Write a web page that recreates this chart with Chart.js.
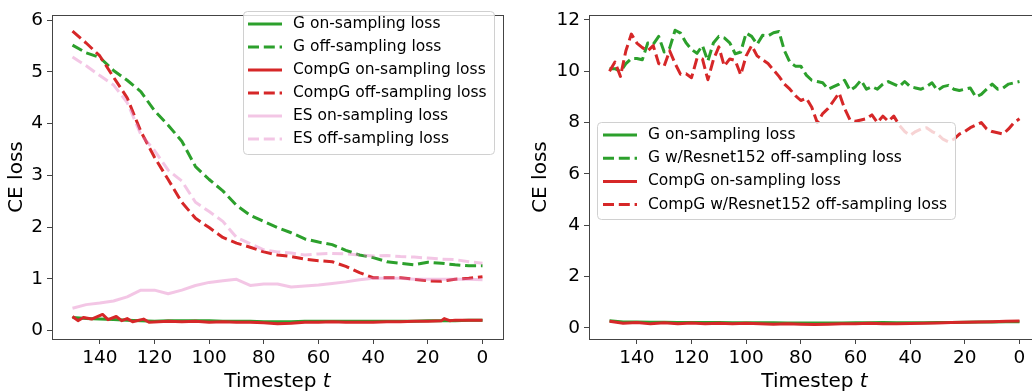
<!DOCTYPE html>
<html lang="en">
<head>
    <meta charset="UTF-8">
    <title>CE loss over timesteps</title>
    <script src="https://cdn.jsdelivr.net/npm/chart.js"></script>
    <style>
        html, body { margin: 0; padding: 0; background: #fff; overflow: hidden; width: 1032px; height: 391px; }
        .panel { position: absolute; top: 0; }
        #leftWrap { left: 0; }
        #rightWrap { left: 520px; }
    </style>
</head>
<body>
    <div id="leftWrap" class="panel"><canvas id="leftChart" width="520" height="391"></canvas></div>
    <div id="rightWrap" class="panel"><canvas id="rightChart" width="525" height="391"></canvas></div>

    <script>
        // ---- left panel data (timestep 150 -> 0, every 5) ----
        var leftSteps = [150,145,140,135,130,125,120,115,110,105,100,95,90,85,80,75,70,65,60,55,50,45,40,35,30,25,20,15,10,5,0];
        var gOnLeft     = [0.25,0.23,0.22,0.21,0.20,0.19,0.18,0.19,0.19,0.19,0.19,0.18,0.18,0.18,0.17,0.17,0.17,0.18,0.18,0.18,0.18,0.18,0.18,0.18,0.18,0.18,0.19,0.19,0.19,0.20,0.20];
        var gOffLeft    = [5.52,5.37,5.28,5.03,4.84,4.62,4.25,3.97,3.66,3.17,2.92,2.70,2.42,2.23,2.11,1.99,1.89,1.77,1.71,1.66,1.55,1.46,1.41,1.33,1.30,1.27,1.32,1.30,1.27,1.25,1.25];
        var compOffLeft = [5.79,5.56,5.31,4.90,4.50,3.85,3.35,2.92,2.48,2.17,1.99,1.80,1.69,1.61,1.52,1.46,1.43,1.38,1.35,1.33,1.24,1.12,1.02,1.02,1.02,0.99,0.96,0.95,0.99,1.01,1.04];
        var esOnLeft    = [0.43,0.50,0.53,0.57,0.65,0.78,0.78,0.71,0.78,0.87,0.93,0.96,0.99,0.87,0.90,0.90,0.84,0.86,0.88,0.91,0.94,0.98,1.01,1.01,1.01,0.99,0.99,0.99,0.99,0.99,0.98];
        var esOffLeft   = [5.29,5.12,4.93,4.75,4.41,3.79,3.48,3.10,2.89,2.48,2.30,2.11,1.80,1.68,1.56,1.52,1.50,1.46,1.48,1.49,1.48,1.46,1.44,1.45,1.43,1.42,1.40,1.38,1.37,1.33,1.30];
        // CompG on-sampling is jagged early on, so it gets its own timesteps
        var compOnSteps = [150,148,146,143,139,137,134,132,130,128,124,122,115,110,105,100,95,90,85,80,75,70,65,60,55,50,45,40,35,30,25,20,15,14,12,10,5,0];
        var compOnLeft  = [0.27,0.19,0.25,0.22,0.31,0.21,0.27,0.19,0.23,0.17,0.22,0.16,0.18,0.17,0.18,0.16,0.17,0.16,0.16,0.15,0.13,0.14,0.16,0.16,0.17,0.16,0.16,0.16,0.17,0.17,0.18,0.18,0.19,0.23,0.19,0.20,0.20,0.20];

        // ---- right panel data ----
        var rightStepsFine = [150,148,146,144,142,140,138,136,134,132,130,128,126,124,122,120,118,116,114,112,110,108,106,104,102,100,98,96,94,92,90,88,86,84,82,80,78,76,74,72,70,68,66,64,62,60,58,56,54,52,50,48,46,44,42,40,38,36,34,32,30,28,26,24,22,20,18,16,14,12,10,8,6,4,2,0];
        var gOffRight = [10.10,10.10,9.99,10.30,10.50,10.50,10.45,11.10,11.05,11.36,10.75,10.90,11.60,11.49,11.11,10.85,10.70,11.00,10.40,11.10,11.36,11.30,11.11,10.68,10.75,11.49,11.36,11.05,11.40,11.38,11.50,11.55,10.80,10.35,10.20,10.20,9.85,9.65,9.60,9.55,9.30,9.40,9.50,9.65,9.25,9.40,9.65,9.30,9.40,9.30,9.50,9.60,9.50,9.40,9.60,9.40,9.35,9.30,9.40,9.55,9.25,9.40,9.45,9.30,9.25,9.30,9.35,9.00,9.10,9.30,9.50,9.30,9.35,9.50,9.55,9.60];
        var compOffRight = [10.00,10.36,9.80,10.80,11.45,11.10,10.92,10.80,11.00,10.30,10.20,10.80,10.30,9.88,9.90,9.75,10.50,10.48,9.67,10.45,10.95,10.20,10.48,10.42,9.86,10.60,11.00,10.60,10.45,10.30,10.05,9.80,9.50,9.30,9.05,8.86,8.95,8.60,8.00,8.35,8.55,8.85,9.15,8.55,8.10,8.05,8.10,8.15,8.30,8.00,8.25,8.05,8.25,7.90,7.65,7.50,7.65,7.75,7.80,7.65,7.55,7.35,7.25,7.35,7.55,7.65,7.80,7.90,8.00,7.75,7.65,7.60,7.55,7.75,8.00,8.15];
        var rightStepsCoarse = [150,145,140,135,130,125,120,115,110,105,100,95,90,85,80,75,70,65,60,55,50,45,40,35,30,25,20,15,10,5,0];
        var gOnRight    = [0.27,0.22,0.22,0.21,0.21,0.20,0.20,0.20,0.20,0.19,0.19,0.19,0.19,0.18,0.18,0.18,0.18,0.18,0.19,0.19,0.20,0.19,0.19,0.19,0.20,0.20,0.21,0.22,0.22,0.23,0.23];
        var compOnRight = [0.25,0.17,0.20,0.15,0.19,0.15,0.18,0.15,0.17,0.15,0.17,0.15,0.14,0.15,0.14,0.13,0.14,0.15,0.15,0.17,0.15,0.15,0.16,0.17,0.18,0.20,0.21,0.22,0.23,0.25,0.26];

        var xTicks = [0, 20, 40, 60, 80, 100, 120, 140];
        var yTicksLeft = [0, 1, 2, 3, 4, 5, 6];
        var yTicksRight = [0, 2, 4, 6, 8, 10, 12];

        var GREEN = '#2ca02c', RED = '#d62728', PINK = 'rgba(227,119,194,0.42)';
        var DASH = [11, 4.8];

        Chart.defaults.font.family = '"DejaVu Sans"';
        Chart.defaults.color = '#000';

        function pts(steps, vals) {
            return steps.map(function(t, i) { return { x: t, y: vals[i] }; });
        }

        function line(label, steps, vals, color, dashed, idx, total) {
            return {
                label: label,
                data: pts(steps, vals),
                borderColor: color,
                borderWidth: 3,
                borderDash: dashed ? DASH : [],
                borderJoinStyle: 'round',
                pointRadius: 0,
                tension: 0,
                fill: false,
                order: total - idx   // later series on top, like matplotlib
            };
        }

        // frame, legend box and x title drawn by hand
        var panelDecor = {
            id: 'panelDecor',
            afterDatasetsDraw: function(chart, args, opts) {
                var ctx = chart.ctx, a = chart.chartArea;
                ctx.save();
                ctx.strokeStyle = '#444';
                ctx.lineWidth = 1;
                ctx.strokeRect(Math.round(a.left) + 0.5, Math.round(a.top) + 0.5,
                    Math.round(a.right - a.left), Math.round(a.bottom - a.top));

                var b = opts.box;
                ctx.beginPath();
                ctx.roundRect(b.x + 0.5, b.y + 0.5, b.w, b.h, 4);
                ctx.fillStyle = 'rgba(255,255,255,0.8)';
                ctx.fill();
                ctx.strokeStyle = '#d0d0d0';
                ctx.stroke();

                chart.data.datasets.forEach(function(ds, i) {
                    var y = opts.firstRow + i * opts.rowGap;
                    ctx.beginPath();
                    ctx.setLineDash(ds.borderDash);
                    ctx.strokeStyle = ds.borderColor;
                    ctx.lineWidth = ds.borderWidth;
                    ctx.moveTo(opts.lineX0, y);
                    ctx.lineTo(opts.lineX1, y);
                    ctx.stroke();
                    ctx.setLineDash([]);
                    ctx.fillStyle = '#000';
                    ctx.font = '15.5px "DejaVu Sans"';
                    ctx.textBaseline = 'middle';
                    ctx.textAlign = 'left';
                    ctx.fillText(ds.label, opts.textX, y);
                });

                // "Timestep t" with italic t
                var cx = (a.left + a.right) / 2;
                ctx.font = '20px "DejaVu Sans"';
                var w1 = ctx.measureText('Timestep ').width;
                ctx.font = 'italic 20px "DejaVu Sans"';
                var w2 = ctx.measureText('t').width;
                var x0 = cx - (w1 + w2) / 2;
                ctx.textBaseline = 'alphabetic';
                ctx.fillStyle = '#000';
                ctx.font = '20px "DejaVu Sans"';
                ctx.fillText('Timestep ', x0, opts.titleY);
                ctx.font = 'italic 20px "DejaVu Sans"';
                ctx.fillText('t', x0 + w1, opts.titleY);
                ctx.restore();
            }
        };

        function makeOptions(yMin, yMax, yTicks, yWidth, titlePad, rightPad, decor) {
            return {
                responsive: false,
                animation: false,
                devicePixelRatio: 1,
                layout: { padding: { top: 3, right: rightPad, left: 0, bottom: 0 } },
                plugins: { legend: { display: false }, tooltip: { enabled: false }, panelDecor: decor },
                scales: {
                    x: {
                        type: 'linear', reverse: true, min: -7.5, max: 157.5,
                        afterBuildTicks: function(s) { s.ticks = xTicks.map(function(v) { return { value: v }; }); },
                        afterFit: function(s) { s.height = 52; },
                        ticks: { font: { size: 18.5 }, padding: 3, maxRotation: 0 },
                        grid: { drawOnChartArea: false, tickLength: 5, tickColor: '#444' },
                        border: { display: false }
                    },
                    y: {
                        type: 'linear', min: yMin, max: yMax,
                        afterBuildTicks: function(s) { s.ticks = yTicks.map(function(v) { return { value: v }; }); },
                        afterFit: function(s) { s.width = yWidth; },
                        ticks: { font: { size: 18.5 }, padding: 4 },
                        grid: { drawOnChartArea: false, tickLength: 5, tickColor: '#444' },
                        border: { display: false },
                        title: { display: true, text: 'CE loss', font: { size: 20 }, padding: { top: titlePad, bottom: 0 } }
                    }
                }
            };
        }

        new Chart(document.getElementById('leftChart'), {
            type: 'line',
            data: {
                datasets: [
                    line('G on-sampling loss', leftSteps, gOnLeft, GREEN, false, 0, 6),
                    line('G off-sampling loss', leftSteps, gOffLeft, GREEN, true, 1, 6),
                    line('CompG on-sampling loss', compOnSteps, compOnLeft, RED, false, 2, 6),
                    line('CompG off-sampling loss', leftSteps, compOffLeft, RED, true, 3, 6),
                    line('ES on-sampling loss', leftSteps, esOnLeft, PINK, false, 4, 6),
                    line('ES off-sampling loss', leftSteps, esOffLeft, PINK, true, 5, 6)
                ]
            },
            options: makeOptions(-0.165, 6.1, yTicksLeft, 52, 5, 17, {
                box: { x: 243, y: 11, w: 251, h: 143 },
                firstRow: 24, rowGap: 23, lineX0: 248, lineX1: 282, textX: 293, titleY: 387
            }),
            plugins: [panelDecor]
        });

        new Chart(document.getElementById('rightChart'), {
            type: 'line',
            data: {
                datasets: [
                    line('G on-sampling loss', rightStepsCoarse, gOnRight, GREEN, false, 0, 4),
                    line('G w/Resnet152 off-sampling loss', rightStepsFine, gOffRight, GREEN, true, 1, 4),
                    line('CompG on-sampling loss', rightStepsCoarse, compOnRight, RED, false, 2, 4),
                    line('CompG w/Resnet152 off-sampling loss', rightStepsFine, compOffRight, RED, true, 3, 4)
                ]
            },
            options: makeOptions(-0.44, 12.19, yTicksRight, 69, 8.7, 5, {
                box: { x: 77, y: 122, w: 358, h: 97 },
                firstRow: 135, rowGap: 23.2, lineX0: 83, lineX1: 117, textX: 128, titleY: 387
            }),
            plugins: [panelDecor]
        });
    </script>
</body>
</html>
